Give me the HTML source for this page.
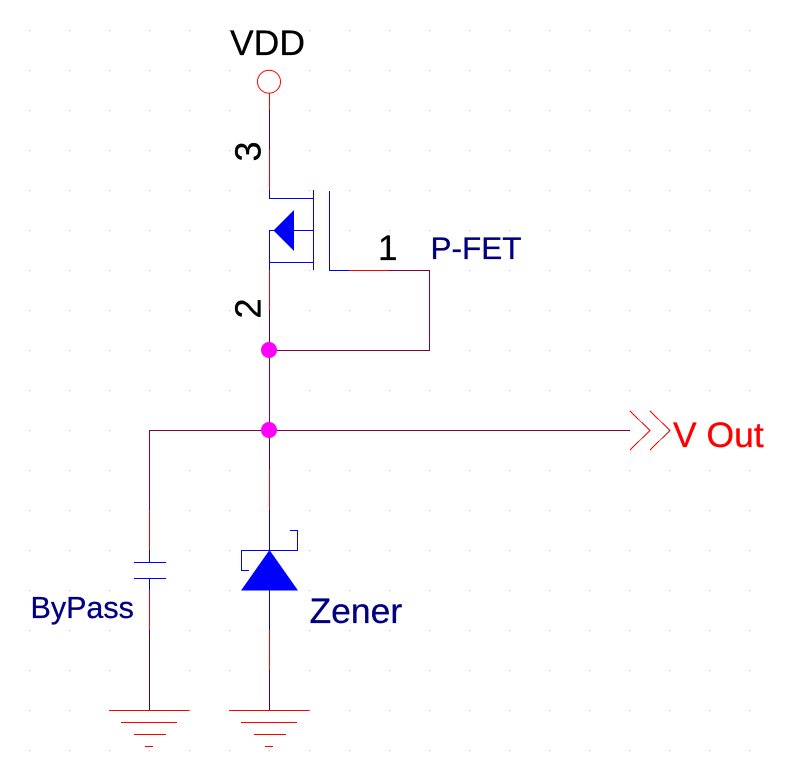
<!DOCTYPE html>
<html>
<head>
<meta charset="utf-8">
<style>
html,body{margin:0;padding:0;background:#fff;}
svg{display:block;}
text{font-family:"Liberation Sans",Arial,sans-serif;stroke-width:.3;}
</style>
</head>
<body>
<svg width="789" height="764" viewBox="0 0 789 764" xmlns="http://www.w3.org/2000/svg">
<defs>
<pattern id="g" x="29" y="30" width="40" height="40" patternUnits="userSpaceOnUse">
<rect x="0" y="0" width="1" height="1" fill="#c0c0c0"/>
</pattern>
</defs>
<rect width="789" height="764" fill="#fff"/>
<rect width="789" height="764" fill="url(#g)"/>

<g fill="none" stroke-width="1" shape-rendering="crispEdges">
<path stroke="#f00" d="M269.5 93V110M269.5 150V190M269.5 270V310M269.5 470V510M149.5 510V550M149.5 590V630M269.5 630V670"/>
<path stroke="#600040" d="M269.5 110V150M269.5 310V350M269.5 430V470M149.5 470V510M149.5 630V710M269.5 670V710"/>
<path stroke="#800040" d="M269.5 350V430M269.5 350.5H429.5V270M149.5 510V430.5H630M389 270.5H429.5"/>
<path stroke="#f00" d="M349 270.5H389"/>
<path stroke="#00f" d="M269.5 190V198.5H313.5M313.5 190V270M329.5 191V270.5H349M269.5 230.5H313.5M269.5 230V270M269.5 262.5H313.5"/>
<path stroke="#00f" d="M149.5 550V562.5M134 562.5H166M134 578.5H166M149.5 578V590"/>
<path stroke="#00f" d="M269.5 510V550M269.5 590V630M249 570.5H241.5V550.5H297.5V530.5H290"/>
<path stroke="#f00" d="M109 710.5H189.5M121 722.5H177M134 734.5H166M145 746.5H153M229 710.5H309.5M241 722.5H297M254 734.5H286M265 746.5H273"/>
<path stroke="#f00" d="M630 411L650 430.5L630 450M650 411L670 430.5L650 450"/>
</g>

<circle cx="269" cy="81.7" r="11.5" fill="#fff" stroke="#f00" stroke-width="1"/>
<polygon points="273.5,230.5 294,210 294,251" fill="#00f"/>
<polygon points="269.5,550 241,590.5 298,590.5" fill="#00f"/>
<circle cx="269" cy="350" r="8" fill="#f0f"/>
<circle cx="269" cy="430" r="8" fill="#f0f"/>

<text x="230" y="55" font-size="35.5" fill="#000" stroke="#000">VDD</text>
<text transform="translate(260.5 161.5) rotate(-90)" font-size="36" fill="#000" stroke="#000">3</text>
<text transform="translate(260.5 318.5) rotate(-90)" font-size="36" fill="#000" stroke="#000">2</text>
<text x="378" y="260" font-size="35" fill="#000" stroke="#000">1</text>
<text x="430.5" y="259" font-size="31.5" fill="#000080" stroke="#000080">P-FET</text>
<text x="673" y="447" font-size="35.5" fill="#f00" stroke="#f00">V Out</text>
<text x="30.5" y="618" font-size="30.5" fill="#000080" stroke="#000080">ByPass</text>
<text x="309.5" y="623" font-size="35.5" fill="#000080" stroke="#000080">Zener</text>
</svg>
</body>
</html>
